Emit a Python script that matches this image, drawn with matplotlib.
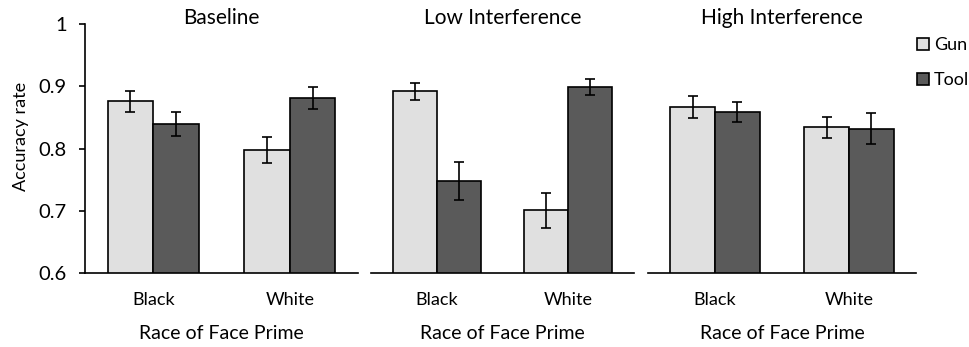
import matplotlib
matplotlib.use("Agg")
import matplotlib.pyplot as plt
import numpy as np

plt.rcParams["font.family"] = ["Lato", "DejaVu Sans"]

panels = ["Baseline", "Low Interference", "High Interference"]
races = ["Black", "White"]
gun = [[0.876, 0.798], [0.892, 0.701], [0.867, 0.834]]
gun_err = [[0.017, 0.021], [0.014, 0.028], [0.018, 0.017]]
tool = [[0.839, 0.881], [0.748, 0.899], [0.859, 0.832]]
tool_err = [[0.019, 0.018], [0.031, 0.013], [0.016, 0.025]]
yticks = [0.6, 0.7, 0.8, 0.9, 1.0]
ytick_labels = ["0.6", "0.7", "0.8", "0.9", "1"]

GUN_C = "#e0e0e0"
TOOL_C = "#5a5a5a"

W, H = 970, 347
fig = plt.figure(figsize=(W / 100, H / 100), dpi=100)

# axes boxes in pixels: (left, width)
boxes = [(85, 273), (371, 263), (648, 268)]
top_px, bot_px = 24, 273

x = np.arange(len(races))
bw = 0.335
ekw = dict(elinewidth=1.2, capthick=1.2)
axes = []
for i, (left, width) in enumerate(boxes):
    ax = fig.add_axes([left / W, (H - bot_px) / H, width / W, (bot_px - top_px) / H])
    ax.bar(x - bw / 2, gun[i], bw, color=GUN_C, edgecolor="black", lw=1.2,
           yerr=gun_err[i], capsize=3.5, error_kw=ekw, label="Gun")
    ax.bar(x + bw / 2, tool[i], bw, color=TOOL_C, edgecolor="black", lw=1.2,
           yerr=tool_err[i], capsize=3.5, error_kw=ekw, label="Tool")
    ax.set_ylim(0.6, 1.0)
    ax.set_xlim(-0.5, 1.5)
    ax.set_xticks(x)
    ax.set_xticklabels(races, fontsize=13)
    ax.tick_params(axis="x", length=0, pad=14)
    ax.set_xlabel("Race of Face Prime", fontsize=14, labelpad=12)
    # panel title sits just above the axes top
    ax.text(0.5, 1.026, panels[i], transform=ax.transAxes, fontsize=15,
            ha="center", va="center")
    ax.spines["top"].set_visible(False)
    ax.spines["right"].set_visible(False)
    ax.spines["bottom"].set_linewidth(1.2)
    if i == 0:
        ax.set_yticks(yticks)
        ax.set_yticklabels(ytick_labels, fontsize=14.5)
        ax.tick_params(axis="y", length=4.5, width=1.2, direction="out", pad=8.5)
        ax.spines["left"].set_linewidth(1.2)
        ax.set_ylabel("Accuracy rate", fontsize=13)
        ax.yaxis.set_label_coords(-0.205, 0.55)
    else:
        ax.spines["left"].set_visible(False)
        ax.set_yticks([])
    axes.append(ax)

handles, labels = axes[2].get_legend_handles_labels()
fig.legend(handles, labels, loc="upper right", bbox_to_anchor=(969 / W, 1 - 37 / H),
           frameon=False, fontsize=13, handlelength=0.65, handleheight=0.65,
           handletextpad=0.25, labelspacing=1.05, borderaxespad=0, borderpad=0)

fig.savefig("out.png", dpi=100)
